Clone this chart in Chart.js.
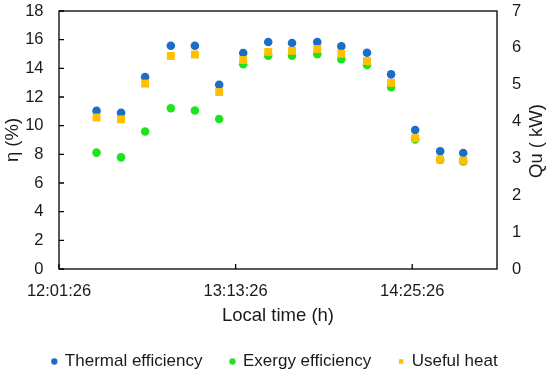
<!DOCTYPE html>
<html>
<head>
<meta charset="utf-8">
<script src="https://cdn.jsdelivr.net/npm/chart.js@4.4.1/dist/chart.umd.min.js"></script>
<style>
  html, body { margin: 0; padding: 0; background: #fff; }
  #wrap { width: 550px; height: 374px; }
</style>
</head>
<body>
<div id="wrap"><canvas id="chart" width="550" height="374"></canvas></div>
<script>
// measurement times (local time)
const startTime = '12:01:26';
const endTime = '15:00:00';
const times = ['12:16:44', '12:26:44', '12:36:32', '12:47:02', '12:56:50', '13:06:44', '13:16:32', '13:26:44',
               '13:36:26', '13:46:44', '13:56:32', '14:07:00', '14:16:50', '14:26:38', '14:36:50', '14:46:14'];
const xTickLabels = ['12:01:26', '13:13:26', '14:25:26'];

// efficiencies (%)
const thermal = [11.03, 10.89, 13.39, 15.58, 15.58, 12.85, 15.07, 15.84, 15.77, 15.84, 15.54, 15.09, 13.58, 9.70, 8.21, 8.09];
const exergy  = [8.12, 7.79, 9.59, 11.22, 11.06, 10.47, 14.28, 14.88, 14.88, 14.98, 14.63, 14.23, 12.69, 9.03, 7.63, 7.51];
// useful heat (kW)
const usefulHeat = [4.11, 4.06, 5.03, 5.78, 5.82, 4.80, 5.67, 5.89, 5.92, 5.97, 5.84, 5.64, 5.05, 3.55, 2.97, 2.94];

const rightTitle = 'Qu ( kW)';

const toSec = t => { const p = t.split(':').map(Number); return p[0] * 3600 + p[1] * 60 + p[2]; };
const toMin = t => (toSec(t) - toSec(startTime)) / 60;
const fmt = m => {
  let s = Math.round(toSec(startTime) + m * 60);
  const h = Math.floor(s / 3600); s -= h * 3600;
  const mm = Math.floor(s / 60); s -= mm * 60;
  return h + ':' + String(mm).padStart(2, '0') + ':' + String(s).padStart(2, '0');
};
const pts = arr => arr.map((v, i) => ({ x: toMin(times[i]), y: v }));

const FONT = "'Liberation Sans', Arial, sans-serif";
const TXT = '#1a1a1a';

const frame = {
  id: 'frame',
  afterDraw: (chart) => {
    const ctx = chart.ctx;
    const a = chart.chartArea;
    ctx.save();
    ctx.strokeStyle = '#000';
    ctx.lineWidth = 1.3;
    ctx.beginPath();
    // inward ticks on x axis
    const sx = chart.scales.x;
    sx.ticks.forEach((t, i) => {
      const px = sx.getPixelForTick(i);
      ctx.moveTo(px, a.bottom);
      ctx.lineTo(px, a.bottom - 5);
    });
    // inward ticks on left y axis
    const sy = chart.scales.y;
    sy.ticks.forEach((t, i) => {
      const py = sy.getPixelForTick(i);
      ctx.moveTo(a.left, py);
      ctx.lineTo(a.left + 5, py);
    });
    ctx.stroke();
    ctx.strokeRect(a.left, a.top, a.right - a.left, a.bottom - a.top);

    // right axis title, reading bottom to top
    ctx.translate(536.5, (a.top + a.bottom) / 2 + 1);
    ctx.rotate(-Math.PI / 2);
    ctx.fillStyle = TXT;
    ctx.font = '18.5px ' + FONT;
    ctx.textAlign = 'center';
    ctx.textBaseline = 'middle';
    ctx.fillText(rightTitle, 0, 0);
    ctx.restore();
  }
};

const fixV = w => s => { s.width = w; s.paddingTop = 11; s.paddingBottom = 0; };

Chart.defaults.font.family = FONT;
Chart.defaults.font.size = 16.5;
Chart.defaults.color = TXT;

new Chart(document.getElementById('chart').getContext('2d'), {
  type: 'scatter',
  plugins: [frame],
  data: {
    datasets: [{
      label: 'Thermal efficiency',
      data: pts(thermal),
      yAxisID: 'y',
      pointStyle: 'circle',
      pointRadius: 4.3,
      pointHoverRadius: 4.3,
      borderWidth: 0,
      backgroundColor: '#1c6dc8',
      borderColor: '#1c6dc8',
      order: 2
    }, {
      label: 'Exergy efficiency',
      data: pts(exergy),
      yAxisID: 'y',
      pointStyle: 'circle',
      pointRadius: 4.3,
      pointHoverRadius: 4.3,
      borderWidth: 0,
      backgroundColor: '#1ee41e',
      borderColor: '#1ee41e',
      order: 1
    }, {
      label: 'Useful heat',
      data: pts(usefulHeat),
      yAxisID: 'y1',
      pointStyle: 'rect',
      pointRadius: 5.6,
      pointHoverRadius: 5.6,
      borderWidth: 0,
      backgroundColor: '#ffc000',
      borderColor: '#ffc000',
      order: 0
    }]
  },
  options: {
    responsive: false,
    animation: false,
    layout: { padding: { top: 0, left: 0, right: 0, bottom: -6 } },
    plugins: {
      tooltip: { enabled: false },
      legend: {
        position: 'bottom',
        labels: {
          usePointStyle: true,
          boxWidth: 4,
          boxHeight: 4.5,
          padding: 28,
          font: { size: 17, family: FONT },
          color: TXT,
          sort: (a, b) => a.datasetIndex - b.datasetIndex
        }
      }
    },
    scales: {
      x: {
        type: 'linear',
        min: 0,
        max: toMin(endTime),
        afterBuildTicks: s => { s.ticks = xTickLabels.map(t => ({ value: toMin(t) })); },
        afterFit: s => { s.height = 56; },
        grid: { display: false, drawTicks: false },
        border: { display: false },
        ticks: { padding: 13, callback: v => fmt(v), maxRotation: 0, autoSkip: false },
        title: { display: true, text: 'Local time (h)', padding: { top: 0, bottom: -2 }, font: { size: 18.5 } }
      },
      y: {
        position: 'left',
        min: 0,
        max: 18,
        afterFit: fixV(59),
        grid: { display: false, drawTicks: false },
        border: { display: false },
        ticks: { stepSize: 2, padding: 15.5 },
        title: { display: true, text: 'η (%)', padding: { top: 1.6, bottom: 0 }, font: { size: 18.5 } }
      },
      y1: {
        position: 'right',
        min: 0,
        max: 7,
        afterFit: fixV(53),
        grid: { display: false, drawTicks: false },
        border: { display: false },
        ticks: { stepSize: 1, padding: 15 }
      }
    }
  }
});
</script>
</body>
</html>
